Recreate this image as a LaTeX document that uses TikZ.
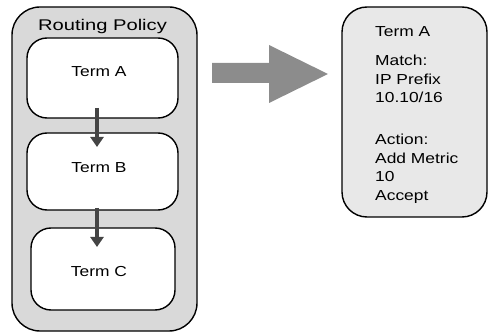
\documentclass[tikz,border=0pt]{standalone}
\usepackage{fontspec}
\setmainfont{Liberation Sans}
\usetikzlibrary{arrows.meta}
\definecolor{policyfill}{HTML}{D9D9D9}
\definecolor{detailfill}{HTML}{E8E8E8}
\definecolor{flowarrow}{HTML}{444444}
\definecolor{bigarrow}{HTML}{8C8C8C}
\newcommand{\wtext}[2][1.2]{\scalebox{#1}[1]{#2}}
\begin{document}
\begin{tikzpicture}[x=1pt,y=-1pt,
  boxline/.style={draw=black,line width=1.4pt},
  policybox/.style={boxline,fill=policyfill,rounded corners=28pt},
  termbox/.style={boxline,fill=white,rounded corners=20pt},
  detailbox/.style={boxline,fill=detailfill,rounded corners=25pt},
  label/.style={font=\fontsize{14.5}{18.6}\selectfont,inner sep=0pt},
  flow/.style={draw=flowarrow,line width=4.3pt,-{Triangle[length=10pt,width=13pt]}},
]
\useasboundingbox (0,0) rectangle (488,334);

% routing policy container and its terms
\path[policybox] (12,7) rectangle (197,331);
\node[label,font=\fontsize{15.5}{18.5}\selectfont,anchor=base] (title) at (102.5,31) {\wtext[1.3]{Routing Policy}};
\path[termbox] (27,38) rectangle (178,118);
\path[termbox] (27,133) rectangle (178,210);
\path[termbox] (31,228) rectangle (175,310);
\node[label] (ta) at (99,72) {\wtext{Term A}};
\node[label] (tb) at (99,168) {\wtext{Term B}};
\node[label] (tc) at (99,272) {\wtext{Term C}};
\coordinate (a1) at (97,108);
\coordinate (b0) at (97,147);
\coordinate (b1) at (97,208);
\coordinate (c0) at (97,247);
\draw[flow] (a1) -- (b0);
\draw[flow] (b1) -- (c0);

% block arrow
\fill[bigarrow] (212,63) -- (269,63) -- (269,45) -- (328,74) -- (269,103) -- (269,83) -- (212,83) -- cycle;

% term detail
\path[detailbox] (342,7) rectangle (487,217);
\node[label,anchor=north west,align=left] (detail) at (375,26.6)
  {\wtext{Term A}\\[10.4pt]
   \wtext{Match:}\\ \wtext{IP Prefix}\\ \wtext{10.10/16}\\[23.2pt]
   \wtext{Action:}\\ \wtext{Add Metric}\\ \wtext{10}\\ \wtext{Accept}};
\end{tikzpicture}
\end{document}
